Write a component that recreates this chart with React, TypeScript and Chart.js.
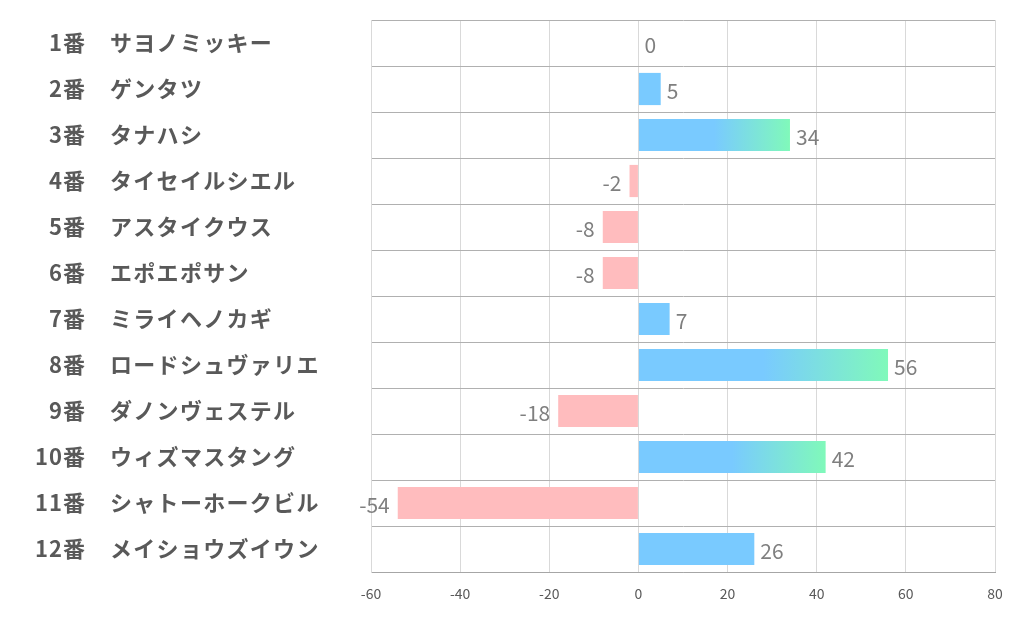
import React, { useEffect, useRef } from "react";
import { Chart, registerables } from "chart.js";

Chart.register(...registerables);

const horseNumbers = ["1番", "2番", "3番", "4番", "5番", "6番", "7番", "8番", "9番", "10番", "11番", "12番"];
const horseNames = [
  "サヨノミッキー",
  "ゲンタツ",
  "タナハシ",
  "タイセイルシエル",
  "アスタイクウス",
  "エポエポサン",
  "ミライヘノカギ",
  "ロードシュヴァリエ",
  "ダノンヴェステル",
  "ウィズマスタング",
  "シャトーホークビル",
  "メイショウズイウン",
];
const scores = [0, 5, 34, -2, -8, -8, 7, 56, -18, 42, -54, 26];
const xTicks = [-60, -40, -20, 0, 20, 40, 60, 80];

const BLUE = "rgb(121,202,255)";
const GREEN = "rgb(128,249,186)";
const PINK = "rgb(255,188,190)";
const JP_FONT = "'Noto Sans CJK JP', 'Noto Sans', sans-serif";

export default function App() {
  const canvasRef = useRef<HTMLCanvasElement | null>(null);

  useEffect(() => {
    if (!canvasRef.current) return;

    const labelPlugin = {
      id: "customLabels",
      afterDraw(chart: any) {
        const ctx = chart.ctx;
        const ys = chart.scales.y;
        const xs = chart.scales.x;
        ctx.save();
        // left labels
        ctx.fillStyle = "#595959";
        ctx.font = `bold 22px ${JP_FONT}`;
        ctx.textBaseline = "middle";
        horseNumbers.forEach((n, i) => {
          const y = ys.getPixelForValue(i);
          (ctx as any).letterSpacing = "1px";
          ctx.textAlign = "right";
          ctx.fillText(n, 86, y);
          ctx.textAlign = "left";
          (ctx as any).letterSpacing = "1.3px";
          ctx.fillText(horseNames[i], 110, y);
        });
        (ctx as any).letterSpacing = "0px";
        // value labels
        ctx.fillStyle = "#7f7f7f";
        ctx.font = `21px ${JP_FONT}`;
        scores.forEach((v, i) => {
          const y = ys.getPixelForValue(i) + 2;
          const xe = xs.getPixelForValue(v);
          if (v >= 0) {
            ctx.textAlign = "left";
            ctx.fillText(String(v), xe + 6, y);
          } else {
            ctx.textAlign = "right";
            ctx.fillText(String(v), xe - 8, y);
          }
        });
        ctx.restore();
      },
    };

    const chart = new Chart(canvasRef.current, {
      type: "bar",
      data: {
        labels: horseNumbers.map((n, i) => `${n} ${horseNames[i]}`),
        datasets: [
          {
            data: scores,
            backgroundColor: (c: any) => {
              const v = c.raw as number;
              if (v < 0) return PINK;
              if (v < 30) return BLUE;
              const xs = c.chart.scales.x;
              if (!xs) return BLUE;
              const x0 = xs.getPixelForValue(0);
              const x1 = xs.getPixelForValue(v);
              const g = c.chart.ctx.createLinearGradient(x0, 0, x1, 0);
              g.addColorStop(0, BLUE);
              g.addColorStop(0.5, BLUE);
              g.addColorStop(1, GREEN);
              return g;
            },
            borderWidth: 0,
            barPercentage: 0.7,
            categoryPercentage: 1,
          },
        ],
      },
      options: {
        indexAxis: "y",
        animation: false,
        responsive: false,
        maintainAspectRatio: false,
        layout: { padding: { top: 20, right: 27, left: 0, bottom: 0 } },
        plugins: {
          legend: { display: false },
          tooltip: { enabled: false },
        },
        scales: {
          x: {
            min: -60,
            max: 80,
            afterBuildTicks: (s: any) => {
              s.ticks = xTicks.map((v) => ({ value: v }));
            },
            afterFit: (s: any) => {
              s.height = 54;
            },
            grid: { color: "#d9d9d9", drawTicks: false, lineWidth: 1 },
            border: { color: "#a6a6a6" },
            ticks: {
              color: "#595959",
              font: { size: 14, family: JP_FONT },
              padding: 13,
            },
          },
          y: {
            afterFit: (s: any) => {
              s.width = 371;
            },
            grid: { color: "#b0b0b0", drawTicks: false, offset: true },
            border: { color: "#d9d9d9" },
            ticks: { display: false },
          },
        },
      },
      plugins: [labelPlugin],
    } as any);

    return () => chart.destroy();
  }, []);

  return (
    <div style={{ position: "absolute", left: 0, top: 0, width: 1022, height: 626, background: "#fff" }}>
      <canvas ref={canvasRef} width={1022} height={626} style={{ display: "block" }} />
    </div>
  );
}
